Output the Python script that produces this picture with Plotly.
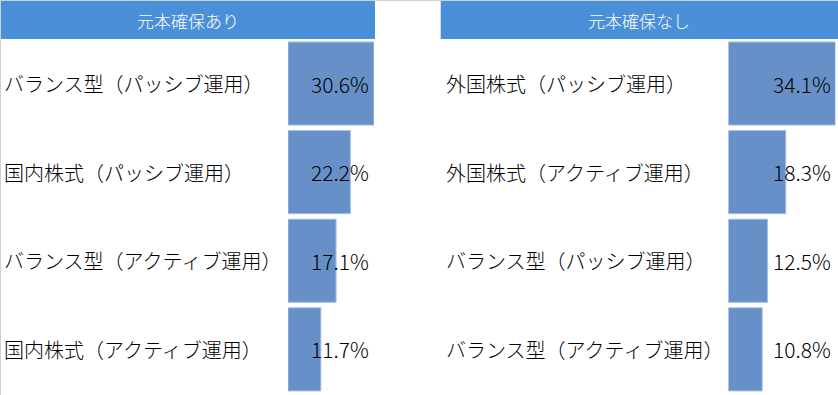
import plotly.graph_objects as go

left_title = "元本確保あり"
right_title = "元本確保なし"

left_categories = [
    "バランス型（パッシブ運用）",
    "国内株式（パッシブ運用）",
    "バランス型（アクティブ運用）",
    "国内株式（アクティブ運用）",
]
left_values = [30.6, 22.2, 17.1, 11.7]

right_categories = [
    "外国株式（パッシブ運用）",
    "外国株式（アクティブ運用）",
    "バランス型（パッシブ運用）",
    "バランス型（アクティブ運用）",
]
right_values = [34.1, 18.3, 12.5, 10.8]

W, H = 838, 395
FONT = "Noto Sans CJK JP"
BAR_COLOR = "#6690C7"
HEAD_COLOR = "#4A90D9"

def px_x(p):
    return p / W

def px_y(p):
    return 1 - p / H

fig = go.Figure()
fig.add_trace(go.Bar(
    x=left_values, y=left_categories, orientation="h",
    xaxis="x", yaxis="y",
    marker=dict(color=BAR_COLOR, line=dict(color="#A9C1E2", width=1)),
    hoverinfo="skip", showlegend=False,
))
fig.add_trace(go.Bar(
    x=right_values, y=right_categories, orientation="h",
    xaxis="x2", yaxis="y2",
    marker=dict(color=BAR_COLOR, line=dict(color="#A9C1E2", width=1)),
    hoverinfo="skip", showlegend=False,
))

y_dom = [px_y(393.7), px_y(39.2)]
axis_common = dict(showgrid=False, zeroline=False, showticklabels=False, showline=False, ticks="", fixedrange=True)

annotations = []
for cats, vals, xa, ya, label_x, shift in [
    (left_categories, left_values, "x", "y", 2, -3),
    (right_categories, right_values, "x2", "y2", 444, -2),
]:
    for c, v in zip(cats, vals):
        annotations.append(dict(
            text=c, x=px_x(label_x), xref="paper", xanchor="left",
            y=c, yref=ya, yanchor="middle", showarrow=False,
            font=dict(family=FONT, size=20, color="#000000", weight=300),
        ))
        annotations.append(dict(
            text=f"{v}%", x=max(vals), xref=xa, xanchor="right", xshift=shift,
            y=c, yref=ya, yanchor="middle", showarrow=False,
            font=dict(family=FONT, size=21, color="#000000", weight=300),
        ))

for title, x0, x1 in [(left_title, 0, 375), (right_title, 440.7, 838)]:
    annotations.append(dict(
        text=title, x=px_x((x0 + x1) / 2), xref="paper", xanchor="center",
        y=px_y(20), yref="paper", yanchor="middle", showarrow=False,
        font=dict(family=FONT, size=17, color="#FFFFFF", weight=300),
    ))

shapes = [
    dict(type="rect", xref="paper", yref="paper", x0=px_x(0), x1=px_x(375),
         y0=px_y(39), y1=px_y(1), fillcolor=HEAD_COLOR, line=dict(width=0), layer="below"),
    dict(type="rect", xref="paper", yref="paper", x0=px_x(440.7), x1=1,
         y0=px_y(39), y1=px_y(1), fillcolor=HEAD_COLOR, line=dict(width=0), layer="below"),
    dict(type="line", xref="paper", yref="paper", x0=0, x1=1, y0=px_y(0.5), y1=px_y(0.5),
         line=dict(color="#D0D0D0", width=1)),
    dict(type="line", xref="paper", yref="paper", x0=px_x(0.5), x1=px_x(0.5), y0=0, y1=1,
         line=dict(color="#D0D0D0", width=1)),
]

fig.update_layout(
    width=W, height=H,
    margin=dict(l=0, r=0, t=0, b=0, pad=0),
    paper_bgcolor="white", plot_bgcolor="white",
    bargap=0.062,
    xaxis=dict(domain=[px_x(288), px_x(374)], range=[0, max(left_values)], anchor="y", **axis_common),
    yaxis=dict(domain=y_dom, type="category", categoryarray=left_categories,
               categoryorder="array", autorange="reversed", anchor="x", **axis_common),
    xaxis2=dict(domain=[px_x(728.3), px_x(835.4)], range=[0, max(right_values)], anchor="y2", **axis_common),
    yaxis2=dict(domain=y_dom, type="category", categoryarray=right_categories,
                categoryorder="array", autorange="reversed", anchor="x2", **axis_common),
    annotations=annotations,
    shapes=shapes,
    font=dict(family=FONT),
)

fig.write_html(
    "out.html",
    config={"displayModeBar": False, "staticPlot": True},
    post_script="document.body.style.margin='0px';document.body.style.overflow='hidden';",
)
